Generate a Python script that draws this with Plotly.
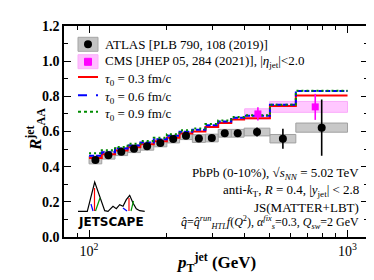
import numpy as np
import plotly.graph_objects as go

# ---------------- data ----------------
atlas_edges = [100, 112, 126, 141, 158, 178, 200, 224, 251, 282, 316, 355, 398, 501, 631, 1000]
atlas_raa = [0.438, 0.465, 0.485, 0.502, 0.516, 0.535, 0.557, 0.576, 0.560, 0.563, 0.590, 0.590, 0.597, 0.559, 0.622]
atlas_stat = [0.006, 0.006, 0.006, 0.006, 0.006, 0.007, 0.008, 0.009, 0.010, 0.012, 0.014, 0.020, 0.026, 0.057, 0.160]
atlas_sys = [0.022, 0.022, 0.022, 0.022, 0.022, 0.022, 0.022, 0.022, 0.022, 0.022, 0.022, 0.022, 0.022, 0.024, 0.026]

cms_lo = [400, 500]
cms_hi = [500, 1000]
cms_pt = [450, 750]
cms_raa = [0.700, 0.740]
cms_stat = [0.038, 0.074]
cms_sys = [0.029, 0.031]

theory_edges = [100, 112, 126, 141, 158, 178, 200, 224, 251, 282, 316, 355, 398, 501, 631, 1000]
tau03 = [0.450, 0.470, 0.492, 0.510, 0.527, 0.545, 0.565, 0.588, 0.600, 0.625, 0.648, 0.668, 0.675, 0.745, 0.805]
tau06 = [0.462, 0.482, 0.503, 0.520, 0.537, 0.556, 0.576, 0.598, 0.610, 0.635, 0.657, 0.678, 0.690, 0.752, 0.830]
tau09 = [0.476, 0.494, 0.512, 0.530, 0.546, 0.565, 0.585, 0.607, 0.617, 0.642, 0.662, 0.683, 0.692, 0.752, 0.832]

x_ticks = [100, 1000]
x_ticklabels = ["10<sup>2</sup>", "10<sup>3</sup>"]
x_minor = [90, 200, 300, 400, 500, 600, 700, 800, 900]
y_ticks = [0.0, 0.2, 0.4, 0.6, 0.8, 1.0, 1.2]

# ---------------- layout geometry ----------------
W, H = 374, 280
L, R, T, B = 56, 14, 18, 51
PW, PH = W - L - R, H - T - B
FONT = "Liberation Serif"


def px(x):
    return (x - L) / PW


def py(y):
    return (T + PH - y) / PH


def boxes(lo, hi, c, e):
    xs, ys = [], []
    for a, b, v, d in zip(lo, hi, c, e):
        xs += [a, b, b, a, a, None]
        ys += [v - d, v - d, v + d, v + d, v - d, None]
    return xs, ys


fig = go.Figure()

# ATLAS systematic boxes
bx, by = boxes(atlas_edges[:-1], atlas_edges[1:], atlas_raa, atlas_sys)
fig.add_trace(go.Scatter(x=bx, y=by, fill="toself", mode="lines",
                         fillcolor="rgba(190,190,190,0.85)",
                         line=dict(color="rgb(160,160,160)", width=1),
                         hoverinfo="skip", showlegend=False))
# CMS systematic boxes
cx, cy = boxes(cms_lo, cms_hi, cms_raa, cms_sys)
fig.add_trace(go.Scatter(x=cx, y=cy, fill="toself", mode="lines",
                         fillcolor="rgba(255,185,255,0.8)",
                         line=dict(color="rgb(250,170,250)", width=1),
                         hoverinfo="skip", showlegend=False))


def step(edges, vals):
    return list(edges), list(vals) + [vals[-1]]


sx, sy = step(theory_edges, tau03)
fig.add_trace(go.Scatter(x=sx, y=sy, mode="lines", line=dict(color="red", width=2, shape="hv"),
                         showlegend=False))
sx, sy = step(theory_edges, tau06)
fig.add_trace(go.Scatter(x=sx, y=sy, mode="lines",
                         line=dict(color="blue", width=2, shape="hv", dash="5px,2px"),
                         showlegend=False))
sx, sy = step(theory_edges, tau09)
fig.add_trace(go.Scatter(x=sx, y=sy, mode="lines",
                         line=dict(color="rgb(0,140,0)", width=2, shape="hv", dash="2px,3px"),
                         showlegend=False))

# ATLAS points
atlas_pt = [float(np.sqrt(a * b)) for a, b in zip(atlas_edges[:-1], atlas_edges[1:])]
fig.add_trace(go.Scatter(x=atlas_pt, y=atlas_raa, mode="markers",
                         marker=dict(color="black", size=8, symbol="circle"),
                         error_y=dict(type="data", array=atlas_stat, color="black", thickness=1.6, width=0),
                         showlegend=False))
# CMS points
fig.add_trace(go.Scatter(x=cms_pt, y=cms_raa, mode="markers",
                         marker=dict(color="magenta", size=7, symbol="square"),
                         error_y=dict(type="data", array=cms_stat, color="magenta", thickness=1.6, width=0),
                         showlegend=False))

shapes = []
annotations = []

# ---------- manual legend ----------
def rect(x0, y0, x1, y1, fill, line):
    shapes.append(dict(type="rect", xref="paper", yref="paper", x0=px(x0), x1=px(x1),
                       y0=py(y1), y1=py(y0), fillcolor=fill, line=dict(color=line, width=1)))


rect(70, 29.3, 90, 43.3, "rgb(195,195,195)", "rgb(165,165,165)")
shapes.append(dict(type="circle", xref="paper", yref="paper", x0=px(76), x1=px(84),
                   y0=py(40.3), y1=py(32.3), fillcolor="black", line=dict(color="black", width=0)))
rect(70, 46.7, 90, 60.7, "rgb(255,190,255)", "rgb(250,175,250)")
rect(76.5, 50.3, 83.5, 57.3, "magenta", "magenta")
for yy, col, dash in [(69, "red", "solid"), (87.3, "blue", "dash"), (103.7, "rgb(0,140,0)", "dot")]:
    shapes.append(dict(type="line", xref="paper", yref="paper", x0=px(70), x1=px(90),
                       y0=py(yy), y1=py(yy), line=dict(color=col, width=2, dash=dash)))

leg_texts = [
    (36.5, "ATLAS [PLB 790, 108 (2019)]"),
    (53.5, "CMS [JHEP 05, 284 (2021)], |<i>η</i><sub>jet</sub>|&lt;2.0"),
    (71.5, "<i>τ</i><sub>0</sub> = 0.3 fm/c"),
    (89.0, "<i>τ</i><sub>0</sub> = 0.6 fm/c"),
    (106.0, "<i>τ</i><sub>0</sub> = 0.9 fm/c"),
]
for yy, t in leg_texts:
    annotations.append(dict(xref="paper", yref="paper", x=px(95), y=py(yy), text=t,
                            showarrow=False, xanchor="left", yanchor="middle",
                            font=dict(family=FONT, size=13, color="black")))

# ---------- info text ----------
info = [
    (165, "PbPb (0-10%), √<i>s</i><sub><i>NN</i></sub> = 5.02 TeV", 13),
    (182, "anti-<i>k</i><sub>T</sub>, <i>R</i> = 0.4, |<i>y</i><sub>jet</sub>| &lt; 2.8", 13),
    (199, "JS(MATTER+LBT)", 13),
    (214, "<i>q̂</i>=<i>q̂</i><sup><i>run</i></sup><sub><i>HTL</i></sub><i>f</i>(<i>Q</i><sup>2</sup>), "
          "<i>α</i><sup><i>fix</i></sup><sub><i>s</i></sub>=0.3, <i>Q</i><sub><i>sw</i></sub>=2 GeV", 12),
]
for yy, t, fs in info:
    annotations.append(dict(xref="paper", yref="paper", x=px(353), y=py(yy), text=t,
                            showarrow=False, xanchor="right", yanchor="middle",
                            font=dict(family=FONT, size=fs, color="black")))

# ---------- JETSCAPE logo ----------
def path(pts):
    return "M " + " L ".join(f"{px(a):.4f},{py(b):.4f}" for a, b in pts)


logo_black = [(70, 203.3), (79.3, 203.3), (86.7, 174), (96.7, 202.7), (100, 203.3), (105, 198.3),
              (108.3, 200.7), (111.7, 196.7), (115, 198.3), (118.3, 191.7), (121.7, 187.3),
              (125, 195), (128.3, 200.7), (131.7, 202.7), (136.7, 203.3)]
shapes.append(dict(type="path", xref="paper", yref="paper", path=path(logo_black),
                   line=dict(color="black", width=1.2)))
for pts, col in [([(86.5, 180), (86.5, 203)], "red"),
                 ([(87.5, 203), (92, 190)], "rgb(0,150,0)"),
                 ([(83, 196), (85, 203)], "blue"),
                 ([(121, 190), (121, 203)], "red"),
                 ([(115, 200), (119, 203)], "blue"),
                 ([(123, 203), (125.5, 193)], "rgb(0,150,0)")]:
    shapes.append(dict(type="path", xref="paper", yref="paper", path=path(pts),
                       line=dict(color=col, width=1.2)))
annotations.append(dict(xref="paper", yref="paper", x=px(103.3), y=py(213.5), text="<b>JETSCAPE</b>",
                        showarrow=False, xanchor="center", yanchor="middle",
                        font=dict(family="DejaVu Sans", size=12, color="black")))

# axis titles as annotations for exact placement
annotations.append(dict(xref="paper", yref="paper", x=px(208), y=py(254), text="<b><i>p</i><sub>T</sub><sup>jet</sup> (GeV)</b>",
                        showarrow=False, xanchor="center", yanchor="middle",
                        font=dict(family=FONT, size=17, color="black")))
annotations.append(dict(xref="paper", yref="paper", x=px(27), y=py(122), text="<b><i>R</i><sup>jet</sup><sub>AA</sub></b>",
                        showarrow=False, xanchor="center", yanchor="middle", textangle=-90,
                        font=dict(family=FONT, size=17, color="black")))

fig.update_layout(
    width=W, height=H,
    margin=dict(l=L, r=R, t=T, b=B),
    paper_bgcolor="white", plot_bgcolor="white",
    shapes=shapes, annotations=annotations,
    showlegend=False,
    font=dict(family=FONT, color="black"),
)
fig.update_xaxes(
    type="log", range=[np.log10(80), np.log10(1200)],
    tickmode="array", tickvals=x_ticks, ticktext=x_ticklabels,
    ticks="inside", ticklen=7, tickwidth=1.2, tickcolor="black",
    minor=dict(tickmode="array", tickvals=x_minor, ticks="inside", ticklen=4, tickwidth=1, tickcolor="black"),
    showline=True, linecolor="black", linewidth=1.5, mirror="ticks",
    showgrid=False, zeroline=False,
    tickfont=dict(family=FONT, size=14, color="black"),
)
fig.update_yaxes(
    range=[0, 1.2],
    tickmode="array", tickvals=y_ticks, ticktext=[f"<b>{v:.1f}</b>" for v in y_ticks],
    ticks="inside", ticklen=7, tickwidth=1.2, tickcolor="black",
    minor=dict(dtick=0.1, ticks="inside", ticklen=4, tickwidth=1, tickcolor="black"),
    showline=True, linecolor="black", linewidth=1.5, mirror="ticks",
    showgrid=False, zeroline=False,
    tickfont=dict(family=FONT, size=14, color="black"),
)

fig.write_html("out.html")
